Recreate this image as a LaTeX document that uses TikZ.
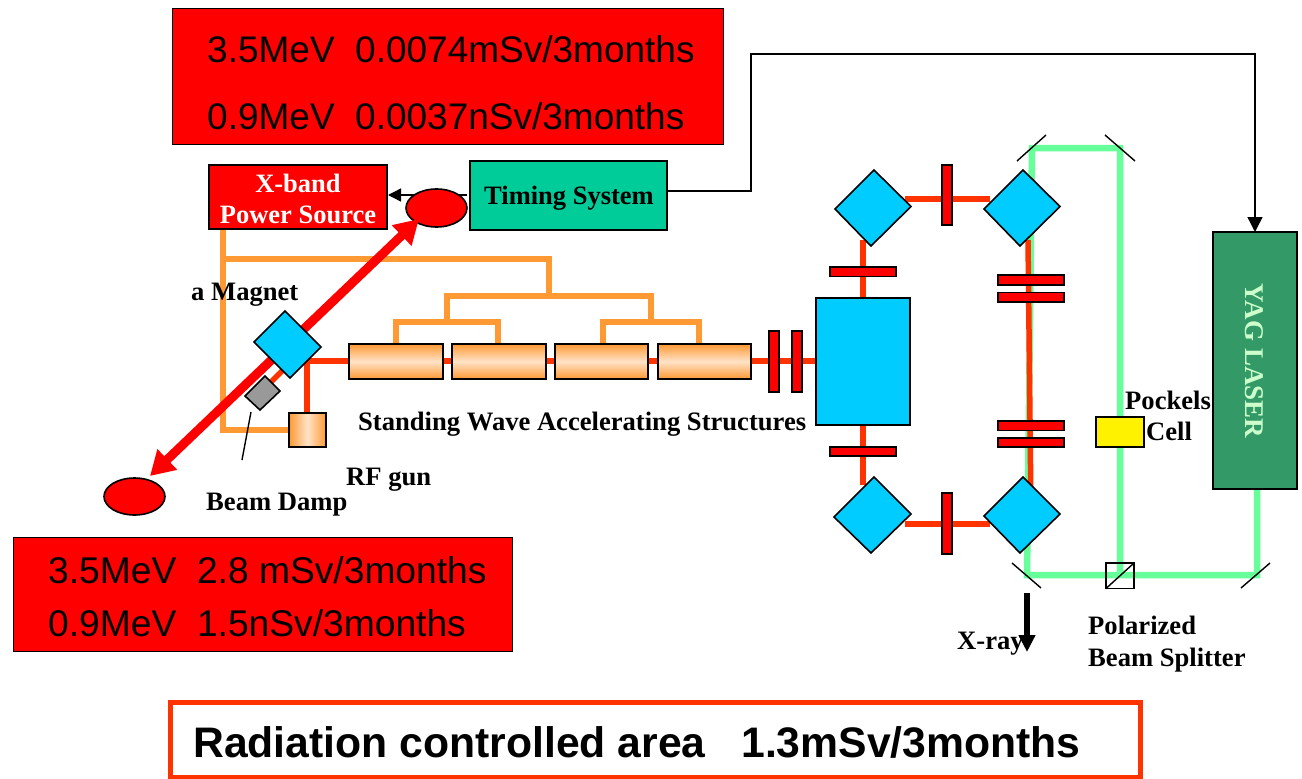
\documentclass[tikz,border=0pt]{standalone}
\usepackage{fontspec}
\setmainfont{Liberation Serif}
\newfontfamily\sansf{Liberation Sans}
\usetikzlibrary{arrows.meta,shapes.geometric}
\definecolor{beamred}{HTML}{FF3300}
\definecolor{wguide}{HTML}{FF9933}
\definecolor{lasergreen}{HTML}{66FF99}
\definecolor{magblue}{HTML}{00CCFF}
\definecolor{timing}{HTML}{00CC99}
\definecolor{yag}{HTML}{339966}
\definecolor{yagtext}{HTML}{CCFFCC}
\definecolor{palepeach}{HTML}{FFE3C8}
\tikzset{
  x=1pt,y=-1pt,
  lbl/.style={font=\fontsize{#1}{#1}\selectfont\bfseries,inner sep=0pt,anchor=base west},
  bigtxt/.style={font=\sansf\fontsize{#1}{#1}\selectfont,inner sep=0pt,anchor=base west},
  beam/.style={draw=beamred,line width=5.5pt},
  guide/.style={draw=wguide,line width=6.5pt,line join=miter},
  laser/.style={draw=lasergreen,line width=6.5pt},
  outl/.style={draw=black,line width=1.6pt},
  mag/.style={outl,fill=magblue},
  barred/.style={outl,fill=red},
  mirror/.style={draw=black,line width=1.4pt},
  tube/.style={outl,top color=wguide,bottom color=wguide,middle color=palepeach},
  bigarrow/.style={draw=red,line width=9pt,-{Triangle[length=24pt,width=27pt]}},
  anchored box/.style={inner sep=0pt,outer sep=0pt,anchor=north west},
}
\newcommand{\boxat}[6][]{\node[anchored box,minimum width=#5 pt,minimum height=#6 pt,#1] (#2) at (#3,#4) {};}
\begin{document}
\begin{tikzpicture}
\useasboundingbox (0,0) rectangle (1302,779);
% coordinates
\coordinate (gA) at (223,229); \coordinate (gB) at (223,430); \coordinate (gC) at (289,430);
\coordinate (hA) at (223,259); \coordinate (hB) at (549,259); \coordinate (hC) at (549,296);
\coordinate (iA) at (447,296); \coordinate (iB) at (651,296);
\coordinate (jA) at (447,322); \coordinate (kA) at (651,322);
% waveguides
\draw[guide] (gA) -- (gB) -- (gC);
\draw[guide] (hA) -- (hB) -- (hC);
\draw[guide] (jA) -- (iA) -- (iB) -- (kA);
\draw[guide] (396,346) -- (396,322) -- (498,322) -- (498,346);
\draw[guide] (603,346) -- (603,322) -- (699,322) -- (699,346);
% laser
\draw[laser] (1257,489) -- (1257,575) -- (1027,575) -- (1032,148) -- (1120,148) -- (1120,575);
% beam lines
\draw[beam] (905,199) -- (990,199);
\draw[beam] (905,524) -- (990,524);
\draw[beam] (863,240) -- (863,298);
\draw[beam] (863,425) -- (863,485);
\draw[beam] (1028,240) -- (1031,510);
\draw[beam] (300,361) -- (816,361);
\draw[beam] (307,361) -- (307,413);
\draw[beam] (283,370) -- (271,382);
% big beam
\node[draw=black,line width=1.6pt,fill=red,ellipse,minimum width=61pt,minimum height=37pt,inner sep=0pt] (dumpB) at (134.5,496.5) {};
\draw[draw=black,line width=1.4pt,-{Triangle[length=13pt,width=13pt]}] (467,195) -- (388,195);
\node[draw=black,line width=1.6pt,fill=red,ellipse,minimum width=61pt,minimum height=38pt,inner sep=0pt] (dumpT) at (436.5,208) {};
\draw[bigarrow] (285,347) -- (419,219);
\draw[bigarrow] (285,347) -- (150,476);
% tubes
\boxat[tube]{t1}{349}{344}{94}{35}
\boxat[tube]{t2}{452}{344}{94}{35}
\boxat[tube]{t3}{555}{344}{93}{35}
\boxat[tube]{t4}{658}{344}{93}{35}
\boxat[barred]{b1}{769}{331}{10}{61}
\boxat[barred]{b2}{792}{331}{10}{61}
% RF gun
\boxat[outl,left color=wguide,right color=wguide,middle color=palepeach]{gun}{289}{413}{37}{34}
% magnets
\draw[mag] (285,311) -- (321,347) -- (290,378) -- (254,342) -- cycle;
\draw[outl,fill=black!40] (265,376) -- (280,391) -- (260,410) -- (245,396) -- cycle;
\coordinate (dampA) at (251,412); \coordinate (dampB) at (242,460);
\draw[draw=black,line width=1.4pt] (dampA) -- (dampB);
\boxat[mag]{bend}{816}{298}{94}{127}
\draw[mag] (874,170) -- (911,206.5) -- (871,246) -- (835,209) -- cycle;
\draw[mag] (1023,170) -- (1060,206.5) -- (1020,246) -- (984,209) -- cycle;
\draw[mag] (874,477) -- (911,514) -- (871,553) -- (834,517) -- cycle;
\draw[mag] (1023,477) -- (1060,514) -- (1020,553) -- (984,516) -- cycle;
% bars
\boxat[barred]{q1}{830}{267}{66}{9.5}
\boxat[barred]{q2}{830}{447}{66}{9}
\boxat[barred]{q3}{942}{165}{10}{60}
\boxat[barred]{q4}{942}{493}{10}{61}
\boxat[barred]{q5}{998}{275}{66}{10}
\boxat[barred]{q6}{998}{292.5}{66}{9.5}
\boxat[barred]{q7}{998}{421}{66}{9.5}
\boxat[barred]{q8}{998}{438}{66}{9}
% mirrors
\draw[mirror] (1017,161) -- (1046,135);
\draw[mirror] (1105,135) -- (1135,161);
\draw[mirror] (1012,563) -- (1041,588);
\draw[mirror] (1241,588) -- (1270,563);
\boxat[draw=black,line width=1.4pt]{split}{1106}{563}{28}{25.5}
\draw[mirror] (split.south west) -- (split.north east);
% Pockels
\boxat[outl,fill=yellow]{pock}{1096}{417}{48}{30}
% YAG
\node[anchored box,outl,fill=yag,minimum width=84pt,minimum height=257pt] (yagb) at (1213,232) {};
\node[font=\fontsize{27}{27}\selectfont\bfseries,text=yagtext,rotate=-90,inner sep=0pt] (yagt) at (1254,361) {YAG LASER};
% timing
\node[anchored box,outl,fill=timing,minimum width=197pt,minimum height=69pt] (tim) at (470,161) {};
\node[lbl=26.5,anchor=center] (timt) at (569,198.5) {Timing System};
\coordinate (tA) at (751,191); \coordinate (tB) at (751,54); \coordinate (tC) at (1255,54);
\draw[draw=black,line width=1.4pt,-{Triangle[length=15pt,width=15pt]}] (667,191) -- (tA) -- (tB) -- (tC) -- (yagb.north -| tC);
% xband
\node[anchored box,outl,fill=red,minimum width=178pt,minimum height=64pt] (xb) at (209,165) {};
\node[lbl=26.5,anchor=center,text=white] (xb1) at (298,183) {X-band};
\node[lbl=26.5,anchor=center,text=white] (xb2) at (298,214.5) {Power Source};
% red boxes
\node[anchored box,draw=black,line width=1pt,fill=red,minimum width=551pt,minimum height=136pt] (rt) at (172,8) {};
\node[bigtxt=37] (rt1) at (207,62) {3.5MeV\ \ 0.0074mSv/3months};
\node[bigtxt=37] (rt2) at (207,129) {0.9MeV\ \ 0.0037nSv/3months};
\node[anchored box,draw=black,line width=1pt,fill=red,minimum width=499pt,minimum height=114pt] (rb) at (13,537) {};
\node[bigtxt=37.2] (rb1) at (48,583) {3.5MeV\ \ 2.8 mSv/3months};
\node[bigtxt=37.2] (rb2) at (48,636) {0.9MeV\ \ 1.5nSv/3months};
\node[anchored box,draw=beamred,line width=5pt,fill=white,minimum width=970pt,minimum height=75pt] (area) at (170,702) {};
\node[bigtxt=40,font=\sansf\bfseries\fontsize{42.7}{42.7}\selectfont] (areat) at (193,757) {Radiation controlled area\ \ \ 1.3mSv/3months};
% labels
\node[lbl=26.6] (l1) at (191,300) {a Magnet};
\node[lbl=26.6] (l2) at (358,430) {Standing Wave Accelerating Structures};
\node[lbl=26.6] (l3) at (346,485) {RF gun};
\node[lbl=26.6] (l4) at (206,510) {Beam Damp};
\node[lbl=26.6] (l5) at (1125,409) {Pockels};
\node[lbl=26.6] (l6) at (1146,440) {Cell};
\node[lbl=26.6] (l7) at (957,649) {X-ray};
\node[lbl=26.6] (l8) at (1088,634) {Polarized};
\node[lbl=26.6] (l9) at (1088,666) {Beam Splitter};
% xray arrow
\coordinate (xA) at (1027,593); \coordinate (xB) at (1027,652);
\draw[draw=black,line width=5.5pt,-{Triangle[length=17pt,width=16pt]}] (xA) -- (xB);
\end{tikzpicture}
\end{document}
